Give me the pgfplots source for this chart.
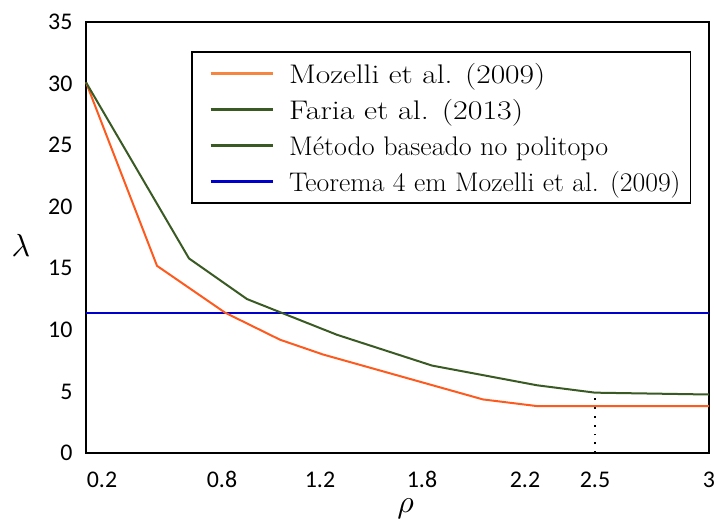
\documentclass[border=0pt]{standalone}
\usepackage{fontspec}
\usepackage{graphicx}
\usepackage{pgfplots}
\pgfplotsset{compat=1.18}
\newfontfamily\carlito{Carlito}
\definecolor{orangeA}{HTML}{FF5A1E}
\definecolor{orangeL}{HTML}{F5853F}
\definecolor{greenA}{HTML}{3A5A24}
\definecolor{blueA}{HTML}{0000CC}

% lambda versus rho (x in plotting units, labelled with the rho values)
\pgfplotstableread{
x     y
0     30.1
71    15.2
139   11.4
194   9.2
237   8.0
397   4.35
452   3.8
623   3.8
}\mozelli
\pgfplotstableread{
x     y
0     30.1
103   15.8
161   12.5
251   9.6
346   7.1
451   5.5
509   4.9
623   4.75
}\faria

\begin{document}
\begin{tikzpicture}
\path[use as bounding box] (-86bp,-66bp) rectangle (628bp,453bp);
\begin{axis}[
  at={(0,0)}, anchor=south west,
  scale only axis, width=623bp, height=431bp,
  xmin=0, xmax=623, ymin=0, ymax=35,
  clip=false,
  axis line style={line width=1.6bp, black},
  xtick={16,136,234,336,439,509,623},
  xticklabels={0.2,0.8,1.2,1.8,2.2,2.5,3},
  ytick={0,5,...,35},
  major tick length=0pt,
  tick label style={font=\carlito\fontsize{24}{24}\selectfont},
  /pgf/number format/assume math mode=true,
  yticklabel style={xshift=-10bp},
  xticklabel style={yshift=-15bp},
  legend style={
    at={(rel axis cs:0.1685,0.9327)}, anchor=north west,
    draw=black, line width=1.6bp,
    font=\fontsize{27}{27}\selectfont,
    inner xsep=10bp, inner ysep=6bp,
    row sep=5bp, column sep=15bp,
    nodes={text height=24bp, text depth=3bp, inner ysep=2bp, inner xsep=0bp},
  },
  legend cell align=left,
  legend image code/.code={\path (0bp,0bp); \draw[#1, line width=3bp] (8bp,0bp) -- (70bp,0bp);},
]
\addlegendimage{orangeL}
\addlegendentry{\scalebox{1.17}[1]{Mozelli et al. (2009)}}
\addlegendimage{greenA}
\addlegendentry{\scalebox{1.19}[1]{Faria et al. (2013)}}
\addlegendimage{greenA}
\addlegendentry{\scalebox{1.04}[1]{Método baseado no politopo}}
\addlegendimage{blueA}
\addlegendentry{\scalebox{1.03}[1]{Teorema 4 em Mozelli et al. (2009)}}

\addplot[forget plot, blueA, line width=2.3bp] coordinates {(0,11.37) (623,11.37)};
\addplot[forget plot, orangeA, line width=2bp] table[x=x, y=y] {\mozelli};
\addplot[forget plot, greenA, line width=2bp] table[x=x, y=y] {\faria};
\addplot[forget plot, black, line width=1.8bp, dash pattern=on 1.8bp off 7bp] coordinates {(509,0) (509,4.9)};

\node[anchor=base, scale=3.2] at (rel axis cs:0.513,-0.139) {$\rho$};
\node[anchor=base, scale=3.2] at (rel axis cs:-0.1043,0.455) {$\lambda$};
\end{axis}
\end{tikzpicture}
\end{document}
